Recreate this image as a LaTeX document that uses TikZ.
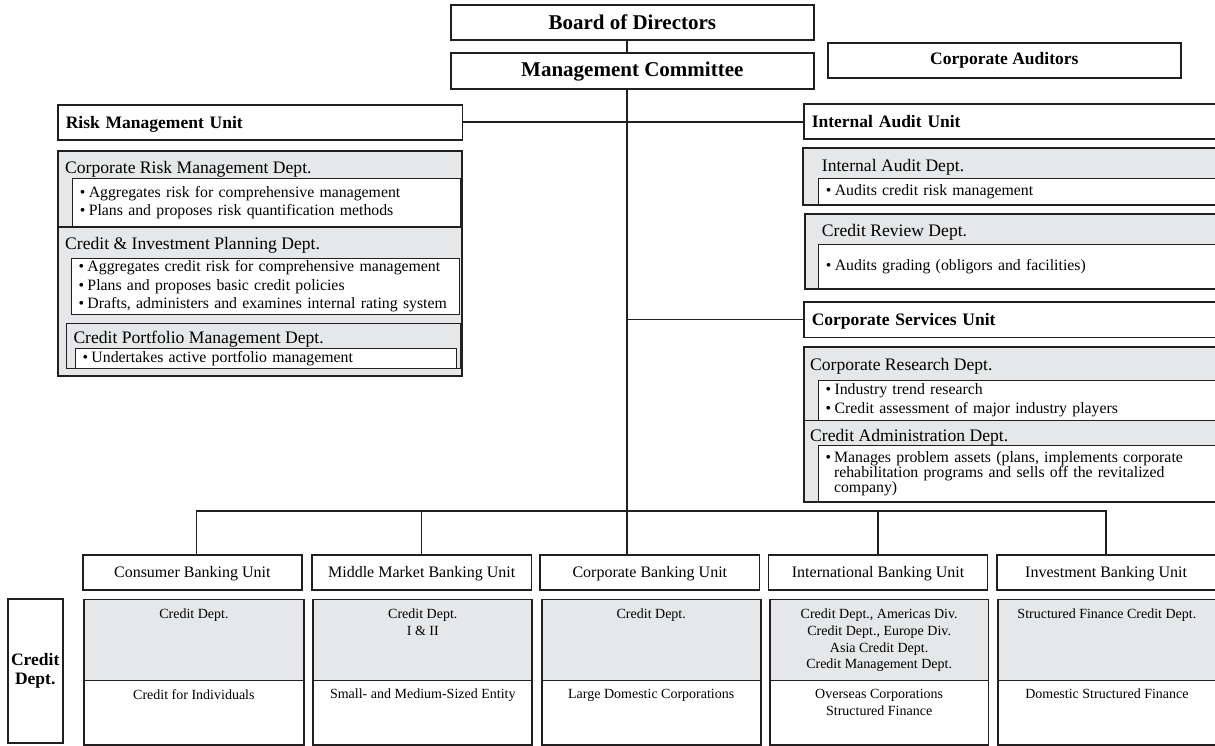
\documentclass[tikz,border=0pt]{standalone}
\usepackage{fontspec}
\setmainfont{Liberation Serif}
\usetikzlibrary{positioning}

\definecolor{ink}{HTML}{231F20}
\definecolor{panelgray}{HTML}{E6E7E8}
\newcommand{\bulletmark}{\makebox[9pt][l]{\textbullet}}

\begin{document}
\begin{tikzpicture}[
  x=1pt,
  y=-1pt,
  box/.style={
    draw=ink,
    line width=1.6pt,
    fill=white,
    inner sep=0pt,
    anchor=north west
  },
  panel/.style={
    box,
    fill=panelgray,
    line width=1.8pt
  },
  whitebox/.style={
    draw=ink,
    line width=1pt,
    fill=white,
    anchor=north west,
    align=left,
    inner xsep=7pt,
    inner ysep=0pt,
    font=\fontsize{15.8}{18.6}\selectfont
  },
  topbox/.style={
    box,
    font=\fontsize{21}{24}\selectfont\bfseries
  },
  unitbox/.style={
    box,
    align=left,
    inner xsep=8pt,
    text height=12.5pt,
    text depth=1pt,
    font=\fontsize{17.5}{20}\selectfont\bfseries
  },
  heading/.style={
    anchor=base west,
    inner sep=0pt,
    font=\fontsize{17.6}{20}\selectfont
  },
  bankbox/.style={
    box,
    minimum height=35.3pt,
    text height=11pt,
    text depth=0pt,
    font=\fontsize{16}{19}\selectfont
  },
  creditbox/.style={
    box,
    line width=1.8pt,
    minimum height=145.5pt,
    path picture={
      \fill[panelgray] (path picture bounding box.north west) rectangle ([yshift=-80.5pt]path picture bounding box.north east);
      \draw[ink, line width=0.8pt] ([yshift=-80.5pt]path picture bounding box.north west) -- ([yshift=-80.5pt]path picture bounding box.north east);
    }
  },
  small/.style={
    anchor=north,
    inner sep=0pt,
    align=center,
    font=\fontsize{14}{16.7}\selectfont
  },
  link/.style={
    draw=ink,
    line width=1.6pt
  }
]

\path[use as bounding box, fill=white] (0,0) rectangle (1215,746);

% Top
\node[topbox, minimum width=363pt, minimum height=35.3pt] (board) at (450,4) {Board of Directors};
\node[topbox, minimum width=363pt, minimum height=36pt] (mgmt) at (450,52.3) {Management Committee};
\node[box, minimum width=353pt, minimum height=35.3pt, font=\fontsize{17.5}{20}\selectfont\bfseries] (auditors) at (827,42) {Corporate Auditors};
\coordinate (spine) at (626.7,0);

% Risk Management Unit
\node[unitbox, minimum width=404.5pt, minimum height=35pt, text width=388.5pt] (riskunit) at (57,104) {Risk Management Unit};
\node[panel, minimum width=404pt, minimum height=76pt] (crmd) at (57,150) {};
\node[heading] (crmdhead) at (65,173.3) {Corporate Risk Management Dept.};
\node[whitebox, minimum width=388pt, minimum height=47.4pt, text width=374pt] (crmdlist) at (72.3,178.3)
  {\bulletmark Aggregates risk for comprehensive management\\
   \bulletmark Plans and proposes risk quantification methods};
\node[panel, minimum width=404pt, minimum height=149pt] (cipd) at (57,226) {};
\node[heading] (cipdhead) at (65,249.3) {Credit \& Investment Planning Dept.};
\node[whitebox, minimum width=388pt, minimum height=56.3pt, text width=374pt] (cipdlist) at (71,257.7)
  {\bulletmark Aggregates credit risk for comprehensive management\\
   \bulletmark Plans and proposes basic credit policies\\
   \bulletmark Drafts, administers and examines internal rating system};
\node[panel, line width=1pt, minimum width=394.3pt, minimum height=45pt] (cpmd) at (65.7,323.3) {};
\node[heading] (cpmdhead) at (73.3,343.3) {Credit Portfolio Management Dept.};
\node[whitebox, minimum width=380.7pt, minimum height=19.4pt, text width=366.7pt] (cpmdlist) at (75,348.3)
  {\bulletmark Undertakes active portfolio management};

% Internal Audit Unit
\node[unitbox, minimum width=422pt, minimum height=35pt, text width=406pt] (iaunit) at (803,103.5) {Internal Audit Unit};
\node[panel, minimum width=423pt, minimum height=57pt] (iadept) at (802,147.5) {};
\node[heading] (iadepthead) at (821.7,172) {Internal Audit Dept.};
\node[whitebox, minimum width=407pt, minimum height=26.5pt, text width=393pt] (iadeptlist) at (818.3,178)
  {\bulletmark Audits credit risk management};
\node[panel, minimum width=421pt, minimum height=75pt] (crdept) at (804,213) {};
\node[heading] (crdepthead) at (821.7,236.5) {Credit Review Dept.};
\node[whitebox, minimum width=407pt, minimum height=44pt, text width=393pt] (crdeptlist) at (818.3,244)
  {\bulletmark Audits grading (obligors and facilities)};

% Corporate Services Unit
\node[unitbox, minimum width=422pt, minimum height=35.7pt, text width=406pt] (csunit) at (803,301) {Corporate Services Unit};
\node[panel, minimum width=422pt, minimum height=73.8pt] (crsd) at (803.4,345.7) {};
\node[heading] (crsdhead) at (810,370) {Corporate Research Dept.};
\node[whitebox, minimum width=407.5pt, minimum height=39.5pt, text width=393pt, font=\fontsize{15.8}{18.3}\selectfont] (crsdlist) at (817.8,380)
  {\bulletmark Industry trend research\\
   \bulletmark Credit assessment of major industry players};
\node[panel, minimum width=422pt, minimum height=81.2pt] (cadm) at (803.4,419.5) {};
\node[heading] (cadmhead) at (810,441.7) {Credit Administration Dept.};
\node[whitebox, minimum width=407.5pt, minimum height=55.7pt, text width=393pt, font=\fontsize{15.8}{15}\selectfont] (cadmlist) at (817.8,445)
  {\makebox[8.5pt][l]{\textbullet}Manages problem assets (plans, implements corporate\\
   \hspace*{8.5pt}rehabilitation programs and sells off the revitalized\\
   \hspace*{8.5pt}company)};

% Banking units
\node[bankbox, minimum width=219pt] (consumer) at (82,554) {Consumer Banking Unit};
\node[bankbox, minimum width=219.7pt] (middle) at (311,554) {Middle Market Banking Unit};
\node[bankbox, minimum width=219.5pt] (corporate) at (539.3,554) {Corporate Banking Unit};
\node[bankbox, minimum width=219pt] (international) at (767.8,554) {International Banking Unit};
\node[bankbox, minimum width=218.5pt] (investment) at (996,554) {Investment Banking Unit};

% Credit departments
\node[box, line width=1.8pt, minimum width=55.3pt, minimum height=144.5pt, align=center, font=\fontsize{17.5}{19.3}\selectfont\bfseries] (creditlabel) at (6.7,597.7) {Credit\\Dept.};
\node[creditbox, minimum width=220pt] (consumercd) at (83,598.5) {};
\node[creditbox, minimum width=219pt] (middlecd) at (312.4,598.5) {};
\node[creditbox, minimum width=219.3pt] (corporatecd) at (540.7,598.5) {};
\node[creditbox, minimum width=218.5pt] (internationalcd) at (769,598.5) {};
\node[creditbox, minimum width=218pt] (investmentcd) at (997,598.5) {};

\node[small, below=10.2pt of consumercd.north] (consumerdept) {Credit Dept.};
\node[small, below=90.5pt of consumercd.north] (consumerseg) {Credit for Individuals};
\node[small, below=10.2pt of middlecd.north] (middledept) {Credit Dept.\\I \& II};
\node[small, below=90.5pt of middlecd.north] (middleseg) {Small- and Medium-Sized Entity};
\node[small, below=10.2pt of corporatecd.north] (corporatedept) {Credit Dept.};
\node[small, below=90.5pt of corporatecd.north] (corporateseg) {Large Domestic Corporations};
\node[small, below=10.2pt of internationalcd.north] (internationaldept)
  {Credit Dept., Americas Div.\\Credit Dept., Europe Div.\\Asia Credit Dept.\\Credit Management Dept.};
\node[small, below=90.5pt of internationalcd.north] (internationalseg) {Overseas Corporations\\Structured Finance};
\node[small, below=10.2pt of investmentcd.north] (investmentdept) {Structured Finance Credit Dept.};
\node[small, below=90.5pt of investmentcd.north] (investmentseg) {Domestic Structured Finance};

% Connecting lines
\draw[link] (board.south -| spine) -- (mgmt.north -| spine);
\draw[link] (mgmt.south -| spine) -- (corporate.north -| spine);
\draw[link] (riskunit.east) -- (riskunit.east -| spine);
\draw[link] (iaunit.west -| spine) -- (iaunit.west);
\draw[link] (csunit.west -| spine) -- (csunit.west);
\coordinate (bus) at (196.5,511);
\draw[link] (bus |- consumer.north) -- (bus) -| (investment.north);
\draw[link] (middle.north) -- (middle.north |- bus);
\draw[link] (international.north) -- (international.north |- bus);

\end{tikzpicture}
\end{document}
